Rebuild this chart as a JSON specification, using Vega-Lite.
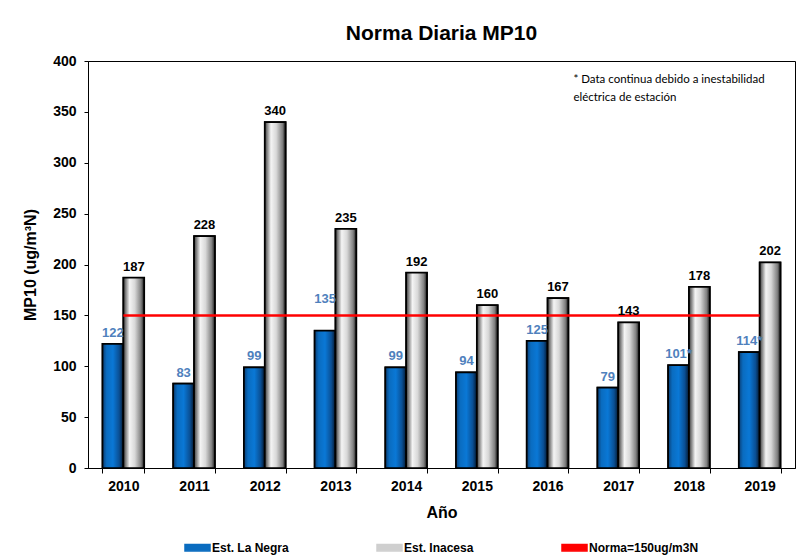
{
  "$schema": "https://vega.github.io/schema/vega-lite/v6.json",
  "width": 707,
  "height": 407,
  "autosize": {"type": "pad"},
  "padding": {"left": 22, "top": 23, "right": 11, "bottom": 4},
  "background": "white",
  "title": {"text": "Norma Diaria MP10", "font": "Liberation Sans", "fontSize": 21, "fontWeight": "bold", "color": "black", "anchor": "middle", "offset": 10},
  "datasets": {
    "barras": [
      {"anio": "2010", "serie": "Est. La Negra", "valor": 122, "etiqueta": "122"},
      {"anio": "2011", "serie": "Est. La Negra", "valor": 83, "etiqueta": "83"},
      {"anio": "2012", "serie": "Est. La Negra", "valor": 99, "etiqueta": "99"},
      {"anio": "2013", "serie": "Est. La Negra", "valor": 135, "etiqueta": "135"},
      {"anio": "2014", "serie": "Est. La Negra", "valor": 99, "etiqueta": "99"},
      {"anio": "2015", "serie": "Est. La Negra", "valor": 94, "etiqueta": "94"},
      {"anio": "2016", "serie": "Est. La Negra", "valor": 125, "etiqueta": "125"},
      {"anio": "2017", "serie": "Est. La Negra", "valor": 79, "etiqueta": "79"},
      {"anio": "2018", "serie": "Est. La Negra", "valor": 101, "etiqueta": "101*"},
      {"anio": "2019", "serie": "Est. La Negra", "valor": 114, "etiqueta": "114*"},
      {"anio": "2010", "serie": "Est. Inacesa", "valor": 187, "etiqueta": "187"},
      {"anio": "2011", "serie": "Est. Inacesa", "valor": 228, "etiqueta": "228"},
      {"anio": "2012", "serie": "Est. Inacesa", "valor": 340, "etiqueta": "340"},
      {"anio": "2013", "serie": "Est. Inacesa", "valor": 235, "etiqueta": "235"},
      {"anio": "2014", "serie": "Est. Inacesa", "valor": 192, "etiqueta": "192"},
      {"anio": "2015", "serie": "Est. Inacesa", "valor": 160, "etiqueta": "160"},
      {"anio": "2016", "serie": "Est. Inacesa", "valor": 167, "etiqueta": "167"},
      {"anio": "2017", "serie": "Est. Inacesa", "valor": 143, "etiqueta": "143"},
      {"anio": "2018", "serie": "Est. Inacesa", "valor": 178, "etiqueta": "178"},
      {"anio": "2019", "serie": "Est. Inacesa", "valor": 202, "etiqueta": "202"}
    ],
    "norma": [
      {"anio": "2010", "norma": 150},
      {"anio": "2011", "norma": 150},
      {"anio": "2012", "norma": 150},
      {"anio": "2013", "norma": 150},
      {"anio": "2014", "norma": 150},
      {"anio": "2015", "norma": 150},
      {"anio": "2016", "norma": 150},
      {"anio": "2017", "norma": 150},
      {"anio": "2018", "norma": 150},
      {"anio": "2019", "norma": 150}
    ],
    "nota": [
      {"texto": "* Data continua debido a inestabilidad\neléctrica de estación"}
    ]
  },
  "encoding": {
    "x": {
      "field": "anio", "type": "nominal",
      "scale": {"paddingInner": 0.41, "paddingOuter": 0.205},
      "axis": {
        "title": "Año", "labelAngle": 0, "tickBand": "extent", "tickSize": 5, "tickColor": "black",
        "domainColor": "black", "domainWidth": 1, "labelFont": "Liberation Sans", "labelFontSize": 14, "labelFontWeight": "bold",
        "labelColor": "black", "labelPadding": 6, "titleFont": "Liberation Sans", "titleFontSize": 16, "titleFontWeight": "bold",
        "titleColor": "black", "titlePadding": 11
      }
    }
  },
  "layer": [
    {
      "data": {"name": "barras"},
      "mark": {"type": "bar", "stroke": "black", "strokeWidth": 1.5},
      "encoding": {
        "xOffset": {"field": "serie", "type": "nominal", "scale": {"domain": ["Est. La Negra", "Est. Inacesa"], "paddingInner": 0, "paddingOuter": 0}},
        "y": {
          "field": "valor", "type": "quantitative",
          "scale": {"domain": [0, 400], "nice": false},
          "axis": {
            "title": "MP10 (ug/m³N)", "values": [0, 50, 100, 150, 200, 250, 300, 350, 400], "grid": false,
            "tickSize": 4, "tickColor": "black", "domainColor": "black", "labelFont": "Liberation Sans", "labelFontSize": 14,
            "labelFontWeight": "bold", "labelColor": "black", "labelPadding": 8, "titleFont": "Liberation Sans", "titleFontSize": 16,
            "titleFontWeight": "bold", "titleColor": "black", "titlePadding": 14
          }
        },
        "color": {
          "field": "serie", "type": "nominal",
          "scale": {"domain": ["Est. La Negra", "Est. Inacesa", "Norma=150ug/m3N"], "range": ["#0a6cc0", "#cfcfcf", "#ff0000"]},
          "legend": {
            "title": null, "orient": "bottom", "direction": "horizontal",
            "labelFont": "Liberation Sans", "labelFontSize": 12, "labelFontWeight": "bold", "labelColor": "black",
            "symbolSize": 625, "symbolType": "M-1,-0.26H1V0.26H-1Z", "symbolStrokeColor": "black", "symbolStrokeWidth": 1.5,
            "symbolOpacity": 1, "labelOffset": 1, "columnPadding": 85, "offset": 14
          }
        }
      }
    },
    {
      "data": {"name": "barras"},
      "transform": [{"filter": "datum.serie === 'Est. La Negra'"}],
      "mark": {"type": "bar", "stroke": "black", "strokeWidth": 1.75,
        "color": {"gradient": "linear", "x1": 0, "y1": 0, "x2": 1, "y2": 0, "stops": [
          {"offset": 0, "color": "#0a3d73"}, {"offset": 0.2, "color": "#0a6cc0"}, {"offset": 0.5, "color": "#0a78d6"},
          {"offset": 0.8, "color": "#0a4f94"}, {"offset": 1, "color": "#04182f"}]}},
      "encoding": {
        "xOffset": {"field": "serie", "type": "nominal"},
        "y": {"field": "valor", "type": "quantitative"}
      }
    },
    {
      "data": {"name": "barras"},
      "transform": [{"filter": "datum.serie === 'Est. Inacesa'"}],
      "mark": {"type": "bar", "stroke": "black", "strokeWidth": 1.75,
        "color": {"gradient": "linear", "x1": 0, "y1": 0, "x2": 1, "y2": 0, "stops": [
          {"offset": 0, "color": "#3a3a3a"}, {"offset": 0.3, "color": "#f4f4f4"}, {"offset": 0.55, "color": "#d8d8d8"},
          {"offset": 0.85, "color": "#808080"}, {"offset": 1, "color": "#1a1a1a"}]}},
      "encoding": {
        "xOffset": {"field": "serie", "type": "nominal"},
        "y": {"field": "valor", "type": "quantitative"}
      }
    },
    {
      "data": {"name": "norma"},
      "mark": {"type": "line", "strokeWidth": 2.5},
      "encoding": {
        "y": {"field": "norma", "type": "quantitative"},
        "color": {"datum": "Norma=150ug/m3N"}
      }
    },
    {
      "data": {"name": "barras"},
      "mark": {"type": "text", "font": "Liberation Sans", "fontSize": 13, "fontWeight": "bold", "baseline": "bottom",
        "dy": {"expr": "datum.serie === 'Est. La Negra' && datum.valor > 130 && datum.valor < 150 ? -25 : -4"}},
      "encoding": {
        "xOffset": {"field": "serie", "type": "nominal"},
        "y": {"field": "valor", "type": "quantitative"},
        "text": {"field": "etiqueta"},
        "color": {"condition": {"test": "datum.serie === 'Est. La Negra'", "value": "#4f81bd"}, "value": "black"}
      }
    },
    {
      "data": {"name": "nota"},
      "mark": {"type": "text", "font": "Lato", "fontSize": 11.5, "align": "left", "baseline": "middle", "lineBreak": "\n", "lineHeight": 18, "dx": -24, "color": "black"},
      "encoding": {
        "x": {"datum": "2017", "bandPosition": 0},
        "y": {"datum": 381},
        "text": {"field": "texto"}
      }
    }
  ],
  "config": {
    "view": {"stroke": "black", "strokeWidth": 1},
    "legend": {"layout": {"bottom": {"anchor": "middle"}}}
  }
}
